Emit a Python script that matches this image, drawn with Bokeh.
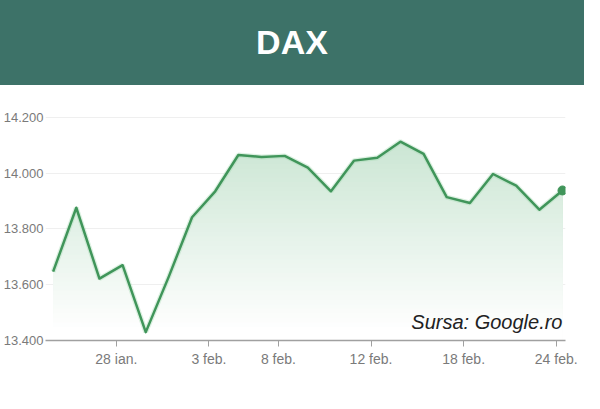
import numpy as np
from bokeh.plotting import figure
from bokeh.layouts import column
from bokeh.models import FixedTicker, Label, Range1d, Div
from bokeh.embed import file_html
from bokeh.resources import INLINE

# ---------------- data ----------------
title_text = "DAX"
source_text = "Sursa: Google.ro"

dates = ["25 ian.", "26 ian.", "27 ian.", "28 ian.", "29 ian.",
         "1 feb.", "2 feb.", "3 feb.", "4 feb.", "5 feb.",
         "8 feb.", "9 feb.", "10 feb.", "11 feb.", "12 feb.",
         "15 feb.", "16 feb.", "17 feb.", "18 feb.", "19 feb.",
         "22 feb.", "23 feb.", "24 feb."]
closes = [13647, 13876, 13622, 13670, 13430,
          13630, 13842, 13935, 14065, 14058,
          14062, 14020, 13935, 14045, 14055,
          14113, 14069, 13914, 13893, 13997,
          13955, 13869, 13938]
tick_dates = ["28 ian.", "3 feb.", "8 feb.", "12 feb.", "18 feb.", "24 feb."]
y_ticks = [13400, 13600, 13800, 14000, 14200]
y_tick_labels = ["13.400", "13.600", "13.800", "14.000", "14.200"]

# ---------------- style ----------------
HEADER_BG = "#3d7268"
LINE_COLOR = "#40955a"
TOP_FILL = np.array([205, 231, 213])
LABEL_FONT = "Liberation Sans"
W = 584

# ---------------- header ----------------
hdr = Div(text=title_text, width=W, height=85,
          styles={"background-color": HEADER_BG, "color": "white",
                  "font-family": "Liberation Sans, Arial, sans-serif",
                  "font-weight": "bold", "font-size": "34px",
                  "text-align": "center", "line-height": "85px",
                  "margin": "0", "padding": "0"})

# ---------------- chart ----------------
x = np.arange(len(closes))
y0, y1 = 13400, 14300
p = figure(width=W, height=308, toolbar_location=None, output_backend="svg",
           x_range=Range1d(-0.33, len(closes) - 1 + 0.13),
           y_range=Range1d(y0, y1),
           min_border_left=41, min_border_right=19,
           min_border_top=4, min_border_bottom=53)
p.outline_line_color = None
p.background_fill_color = "white"
p.border_fill_color = "white"
p.xgrid.visible = False
p.ygrid.grid_line_color = "#efefef"
p.ygrid.ticker = FixedTicker(ticks=y_ticks)

# gradient fill under the line (vertical, in bands drawn from top to bottom)
xd = np.linspace(x[0], x[-1], 2000)
yd = np.interp(xd, x, closes)
levels = np.linspace(y0, max(closes), 45)[::-1]
for lev in levels:
    f = np.clip((lev - 13450) / (14100 - 13450), 0, 1)
    c = (255 * (1 - f) + TOP_FILL * f).astype(int)
    col = "#%02x%02x%02x" % tuple(c)
    p.varea(x=xd, y1=np.full_like(xd, y0), y2=np.clip(yd, y0, lev),
            fill_color=col, fill_alpha=1.0)

p.line(x, closes, line_color="#9fd6ab", line_width=5, line_alpha=0.35)
p.line(x, closes, line_color=LINE_COLOR, line_width=2.5, line_join="round")
p.scatter([x[-1]], [closes[-1]], size=9, color=LINE_COLOR)

# axes
tick_pos = [dates.index(d) - 0.27 for d in tick_dates]
p.xaxis.ticker = FixedTicker(ticks=tick_pos)
p.xaxis.major_label_overrides = {t: d for t, d in zip(tick_pos, tick_dates)}
p.xaxis.axis_line_color = "#a0a0a0"
p.xaxis.axis_line_width = 1.5
p.xaxis.major_tick_line_color = "#a0a0a0"
p.xaxis.major_tick_out = 6
p.xaxis.major_tick_in = 0
p.xaxis.minor_tick_line_color = None
p.xaxis.minor_tick_out = 0
p.xaxis.major_label_standoff = 4
p.xaxis.major_label_text_color = "#7a7a7a"
p.xaxis.major_label_text_font = LABEL_FONT
p.xaxis.major_label_text_font_size = "14px"

p.yaxis.ticker = FixedTicker(ticks=y_ticks)
p.yaxis.major_label_overrides = {t: l for t, l in zip(y_ticks, y_tick_labels)}
p.yaxis.axis_line_color = None
p.yaxis.major_tick_line_color = None
p.yaxis.minor_tick_line_color = None
p.yaxis.major_tick_out = 0
p.yaxis.major_tick_in = 0
p.yaxis.minor_tick_out = 0
p.yaxis.minor_tick_in = 0
p.yaxis.major_label_standoff = 2
p.yaxis.major_label_text_color = "#7a7a7a"
p.yaxis.major_label_text_font = LABEL_FONT
p.yaxis.major_label_text_font_size = "13px"

p.add_layout(Label(x=x[-1], y=13465, text=source_text, text_align="right",
                   text_baseline="alphabetic", text_color="#222222",
                   text_font="Liberation Sans", text_font_style="italic",
                   text_font_size="20px"))

layout = column(hdr, p, spacing=0)
open("out.html", "w").write(file_html(layout, INLINE))
